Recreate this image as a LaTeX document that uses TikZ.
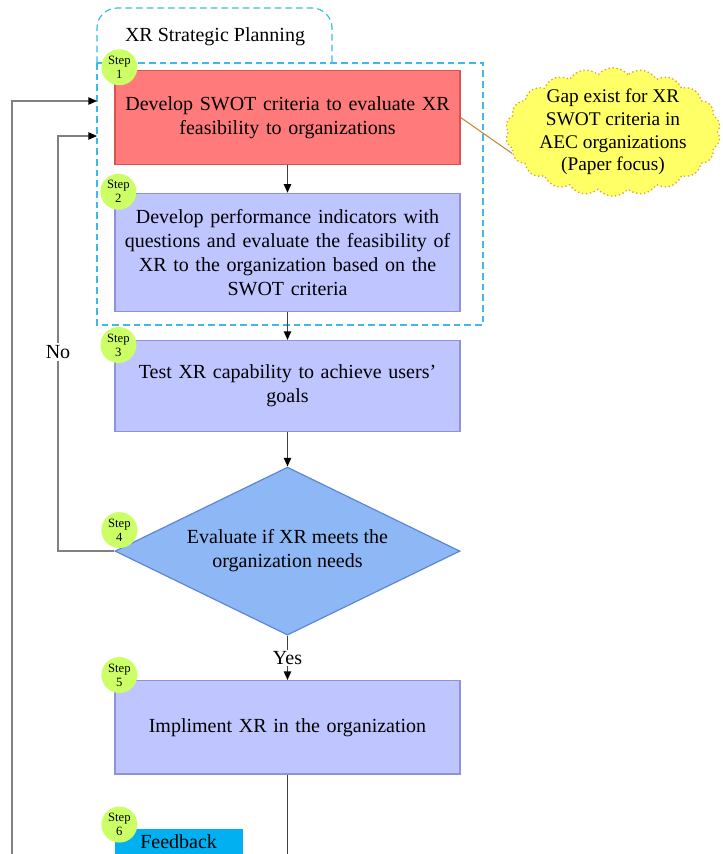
\documentclass[tikz,border=0pt]{standalone}
\usepackage{fontspec}
\setmainfont{Liberation Serif}
\usetikzlibrary{arrows.meta,positioning,shapes.geometric,shapes.symbols}

\definecolor{redfill}{HTML}{FF7B7B}
\definecolor{redline}{HTML}{D9534F}
\definecolor{bluefill}{HTML}{BFC5FF}
\definecolor{blueline}{HTML}{8A93DB}
\definecolor{diafill}{HTML}{8DB8F5}
\definecolor{dialine}{HTML}{5F86D6}
\definecolor{dotfill}{HTML}{CCFF66}
\definecolor{cloudfill}{HTML}{FFFF66}
\definecolor{cloudline}{HTML}{D9A43A}
\definecolor{planline}{HTML}{3DB9EA}
\definecolor{fbfill}{HTML}{00B0F0}
\definecolor{linkline}{HTML}{C4873F}

\begin{document}
\begin{tikzpicture}[
    x=0.75pt, y=-0.75pt,
    font=\fontsize{15}{18}\selectfont,
    box/.style={rectangle, draw=blueline, fill=bluefill, line width=0.9pt, align=center,
                text width=250pt, minimum width=258.75pt},
    stepdot/.style={circle, fill=dotfill, minimum size=27pt, inner sep=0pt, align=center,
                    font=\fontsize{9.5}{10.5}\selectfont},
    flow/.style={draw=black!75, line width=1pt, -{Triangle[length=6.5pt, width=5.5pt, color=black]}},
    loopline/.style={draw=black!50, line width=1.1pt, -{Triangle[length=6.5pt, width=5.5pt, color=black]}},
    plan/.style={draw=planline, line width=0.9pt, dash pattern=on 5pt off 3pt}
  ]
  \useasboundingbox (0,0) rectangle (723,854);
  \clip (0,0) rectangle (723,854);

  % planning frame
  \coordinate (plannw) at (97,63);
  \coordinate (planse) at (483,325);
  \draw[plan] (plannw) rectangle (planse);
  \draw[plan, rounded corners=15pt] (plannw) |- (332,8) -- (332,63);
  \node (plantitle) at (215,37) {XR Strategic Planning};

  % steps
  \node[box, fill=redfill, draw=redline, minimum height=70pt] (s1) at (287.5,117.5)
       {Develop SWOT criteria to evaluate XR\\feasibility to organizations};
  \node[box, below=21pt of s1, minimum height=88.5pt] (s2)
       {Develop performance indicators with\\questions and evaluate the feasibility of\\XR to the organization based on the\\SWOT criteria};
  \node[box, below=21pt of s2, minimum height=68pt] (s3)
       {Test XR capability to achieve users'\\goals};
  \node[diamond, draw=dialine, fill=diafill, line width=0.9pt, align=center, aspect=2,
        inner sep=0pt, minimum width=258.75pt, minimum height=126pt, below=26pt of s3] (s4)
       {Evaluate if XR meets the\\organization needs};
  \node[box, below=33.25pt of s4, minimum height=70pt] (s5)
       {Impliment XR in the organization};
  \node[rectangle, fill=fbfill, minimum width=96pt, inner ysep=4pt,
        below=40.5pt of s5.south west, anchor=north west] (s6) {Feedback};

  % step numbers
  \node[stepdot] (d1) at ([shift={(3.75pt,2.25pt)}]s1.north west) {Step\\1};
  \node[stepdot] (d2) at ([shift={(3pt,0.75pt)}]s2.north west) {Step\\2};
  \node[stepdot] (d3) at ([shift={(3pt,-3.75pt)}]s3.north west) {Step\\3};
  \node[stepdot] (d4) at ([shift={(3.75pt,15.75pt)}]s4.west) {Step\\4};
  \node[stepdot] (d5) at ([shift={(3.75pt,3.75pt)}]s5.north west) {Step\\5};
  \node[stepdot] (d6) at ([shift={(3.75pt,3pt)}]s6.north west) {Step\\6};

  % research gap
  \node[cloud, cloud puffs=22, cloud puff arc=100, aspect=1.8, draw=cloudline, dotted,
        line width=1pt, fill=cloudfill, minimum width=161pt, minimum height=88pt,
        align=center, inner xsep=0pt, inner ysep=-6pt,
        font=\fontsize{14.5}{17}\selectfont] (gap) at (613,132)
       {Gap exist for XR\\SWOT criteria in\\AEC organizations\\(Paper focus)};
  \draw[linkline, line width=0.8pt] (s1.east) -- (gap.192);

  % connectors
  \draw[flow] (s1) -- (s2);
  \draw[flow] (s2) -- (s3);
  \draw[flow] (s3) -- (s4);
  \draw[flow] (s4) -- node[fill=white, inner sep=1pt] {Yes} (s5);
  \coordinate (s5end) at (287.5,880);
  \draw[draw=black!75, line width=1pt] (s5) -- (s5end);

  \coordinate (noin) at (97,136);
  \coordinate (nox) at (58,0);
  \draw[loopline] (s4.west) -- (s4.west -| nox)
       -- node[pos=0.48, fill=white, inner sep=2pt] {No} (nox |- noin) -- (noin);
  \coordinate (fbin) at (12,880);
  \coordinate (planin) at (97,101);
  \draw[loopline] (fbin) |- (planin);
\end{tikzpicture}
\end{document}
